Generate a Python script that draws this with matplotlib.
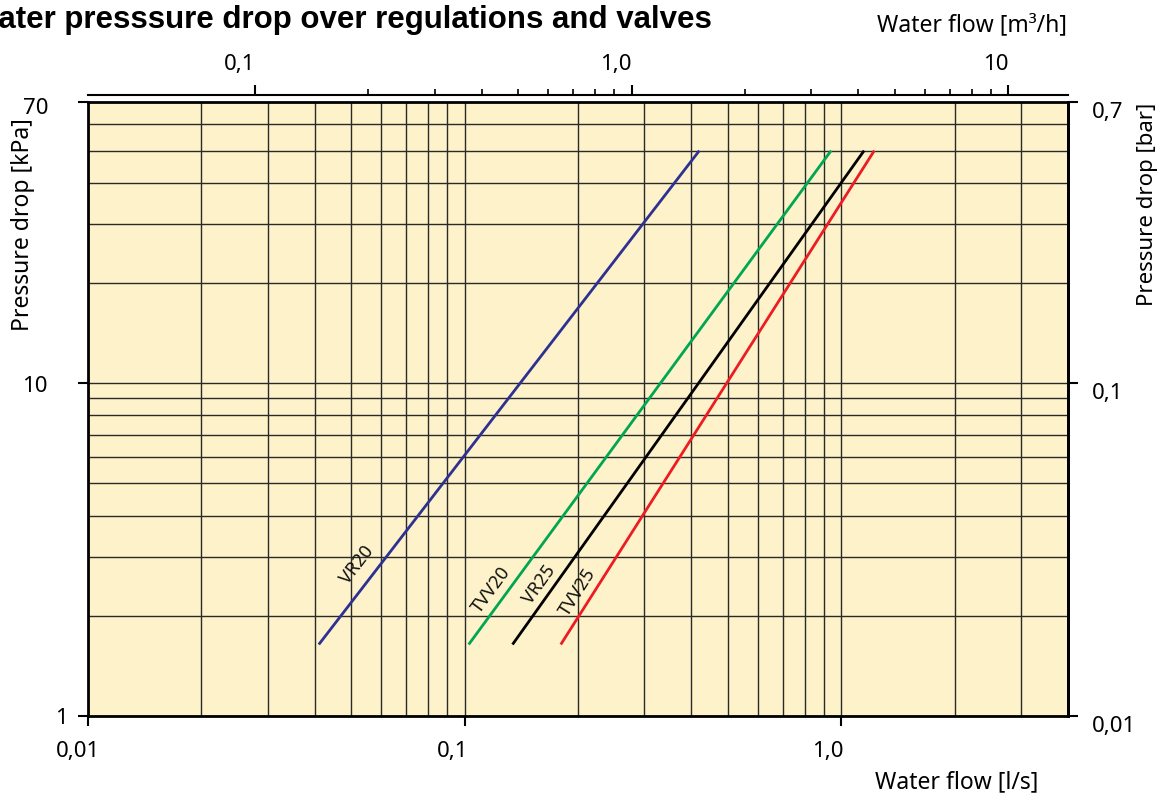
import matplotlib
matplotlib.use("Agg")
import matplotlib.pyplot as plt
import matplotlib.ticker as mticker
import matplotlib.transforms as mtransforms
import numpy as np

# ---- data ----
series_names = ["VR20", "TVV20", "VR25", "TVV25"]
series_colors = ["#2e3192", "#00a651", "#000000", "#ed1c24"]
flow_start = [0.041, 0.1025, 0.134, 0.180]     # l/s at start
flow_end = [0.42, 0.94, 1.15, 1.224]           # l/s at end
dp_start = [1.64, 1.64, 1.64, 1.64]            # kPa
dp_end = [50, 50, 50, 50]                      # kPa
label_x = [0.0517, 0.118, 0.158, 0.1993]
label_y = [2.85, 2.40, 2.48, 2.35]

x_ticks = [0.01, 0.1, 1.0]
x_ticklabels = ["0,01", "0,1", "1,0"]
y_ticks = [1, 10, 70]
y_ticklabels = ["1", "10", "70"]
top_ticks = [0.1, 1, 10]
top_ticklabels = ["0,1", "1,0", "10"]
right_ticks = [0.01, 0.1, 0.7]
right_ticklabels = ["0,01", "0,1", "0,7"]

FONT = "Noto Sans"
TS = 16
W, H = 1159, 795
fig = plt.figure(figsize=(W / 100, H / 100), dpi=100)
ax = fig.add_axes([88 / W, 1 - 716 / H, (1068 - 88) / W, (716 - 102) / H])
ax.set_facecolor("#fdf2c9")
ax.set_xscale("log")
ax.set_yscale("log")
ax.set_xlim(0.01, 4.0)
ax.set_ylim(1, 70)

# grid lines
xgrid = [m * 10.0 ** e for e in (-2, -1, 0) for m in range(1, 10) if m * 10.0 ** e < 3.9]
ygrid = [m * 10.0 ** e for e in (0, 1) for m in range(1, 10) if m * 10.0 ** e < 69]
for xv in xgrid:
    ax.axvline(xv, color="#2a2a2a", lw=1.0, zorder=1)
for yv in ygrid:
    ax.axhline(yv, color="#2a2a2a", lw=1.0, zorder=1)

for name, c, x0, x1, y0, y1, lx, ly in zip(series_names, series_colors, flow_start, flow_end,
                                            dp_start, dp_end, label_x, label_y):
    ax.plot([x0, x1], [y0, y1], color=c, lw=2.0, solid_capstyle="butt", zorder=3)
    p0 = ax.transData.transform((x0, y0))
    p1 = ax.transData.transform((x1, y1))
    ang = np.degrees(np.arctan2(p1[1] - p0[1], p1[0] - p0[0]))
    ax.text(lx, ly, name, rotation=ang, rotation_mode="anchor", ha="center", va="center",
            fontsize=13, family=FONT, color="#111111", zorder=4)

for s in ax.spines.values():
    s.set_linewidth(2.0)

ax.set_xticks(x_ticks)
ax.set_xticklabels([])
ax.xaxis.set_minor_locator(mticker.NullLocator())
ax.set_yticks(y_ticks)
ax.set_yticklabels([])
ax.yaxis.set_minor_locator(mticker.NullLocator())
ax.tick_params(axis="both", which="major", direction="out", length=7, width=1.5)

# manual left / bottom tick labels (offset as in the reference)
ytr = mtransforms.blended_transform_factory(fig.transFigure, ax.transData)
y_label_xpix = [61, 35, 36]
y_label_dy = [-2, -3, -6]
for v, t, xp, dy in zip(y_ticks, y_ticklabels, y_label_xpix, y_label_dy):
    fig.text(xp / W, v, t, transform=ytr + mtransforms.ScaledTranslation(0, dy / 100, fig.dpi_scale_trans),
             ha="center", va="center", fontsize=TS, family=FONT)
xtr = mtransforms.blended_transform_factory(ax.transData, fig.transFigure)
x_label_dx = [-10, -12, -13]
for v, t, dx in zip(x_ticks, x_ticklabels, x_label_dx):
    fig.text(v, 1 - 752 / H, t, transform=xtr + mtransforms.ScaledTranslation(dx / 100, 0, fig.dpi_scale_trans),
             ha="center", va="center", fontsize=TS, family=FONT)

# top axis m3/h
sec = ax.secondary_xaxis("top", functions=(lambda x: x * 3.6, lambda x: x / 3.6))
sec.spines["top"].set_position(("outward", 5))
sec.spines["top"].set_linewidth(1.5)
sec.set_xticks(top_ticks)
sec.set_xticklabels(top_ticklabels)
minor_top = [m * 10.0 ** e for e in (-1, 0) for m in range(2, 10)]
sec.xaxis.set_minor_locator(mticker.FixedLocator(minor_top))
sec.xaxis.set_minor_formatter(mticker.NullFormatter())
sec.tick_params(axis="x", which="major", direction="out", length=7.5, width=1.5, labelsize=TS, pad=7)
sec.tick_params(axis="x", which="minor", direction="out", length=4.5, width=1.2)
for lab in sec.get_xticklabels():
    lab.set_family(FONT)
    lab.set_horizontalalignment("right")

# right axis bar
sec2 = ax.secondary_yaxis("right", functions=(lambda y: y / 100, lambda y: y * 100))
sec2.set_yticks(right_ticks)
sec2.set_yticklabels(right_ticklabels)
sec2.yaxis.set_minor_locator(mticker.NullLocator())
sec2.spines["right"].set_linewidth(2.0)
sec2.tick_params(axis="y", which="major", direction="out", length=7, width=1.5, labelsize=TS, pad=10)
for lab in sec2.get_yticklabels():
    lab.set_family(FONT)
    lab.set_verticalalignment("top")

# labels (title is cropped at the left edge, as in the reference)
fig.text(712 / W, 1 - 20 / H, "Water presssure drop over regulations and valves",
         ha="right", va="center", fontsize=22.5, fontweight="bold", family="Liberation Sans")
fig.text(1067 / W, 1 - 25 / H, "Water flow [m\u00b3/h]", ha="right", va="center",
         fontsize=16.5, family=FONT)
fig.text(1038 / W, 1 - 782 / H, "Water flow [l/s]", ha="right", va="center",
         fontsize=16.5, family=FONT)
fig.text(23 / W, 1 - 118 / H, "Pressure drop [kPa]", rotation=90, ha="center", va="top",
         fontsize=16.5, family=FONT)
fig.text(1147 / W, 1 - 103 / H, "Pressure drop [bar]", rotation=90, ha="center", va="top",
         fontsize=16, family=FONT)

fig.savefig("out.png", dpi=100, facecolor="white")
